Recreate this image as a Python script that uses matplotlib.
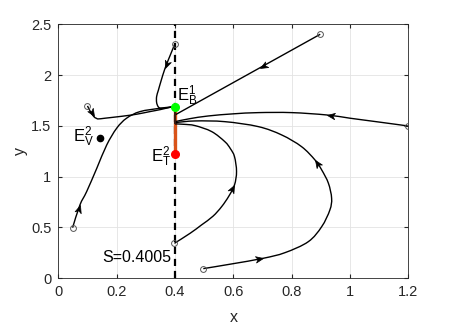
import numpy as np
import matplotlib
matplotlib.use("Agg")
import matplotlib.pyplot as plt
from matplotlib.path import Path
from matplotlib.patches import PathPatch
from matplotlib.markers import MarkerStyle

plt.rcParams['font.family'] = ['Liberation Sans', 'DejaVu Sans']
plt.rcParams['mathtext.default'] = 'regular'

S = 0.4005

# trajectories (x, y)
traj_a_x = [0.399, 0.383, 0.366, 0.352, 0.343, 0.337, 0.337, 0.342, 0.350, 0.365, 0.384, 0.400]
traj_a_y = [2.303, 2.190, 2.067, 1.940, 1.850, 1.788, 1.730, 1.690, 1.673, 1.676, 1.683, 1.690]

traj_b_x = [0.100, 0.110, 0.122, 0.130, 0.137, 0.160, 0.200, 0.234, 0.270, 0.314, 0.350, 0.384, 0.400]
traj_b_y = [1.696, 1.640, 1.590, 1.575, 1.568, 1.575, 1.588, 1.600, 1.615, 1.640, 1.660, 1.683, 1.690]

traj_c_x = [0.049, 0.074, 0.097, 0.132, 0.166, 0.200, 0.234, 0.280, 0.349, 0.380, 0.400]
traj_c_y = [0.498, 0.721, 0.852, 1.083, 1.312, 1.476, 1.575, 1.640, 1.673, 1.683, 1.690]

traj_d_x = [0.898, 0.400]
traj_d_y = [2.401, 1.607]

traj_e_x = [1.198, 1.100, 1.000, 0.920, 0.800, 0.686, 0.600, 0.514, 0.450, 0.400]
traj_e_y = [1.499, 1.537, 1.575, 1.607, 1.630, 1.630, 1.618, 1.597, 1.570, 1.541]

traj_f_x = [0.398, 0.452, 0.491, 0.530, 0.560, 0.585, 0.604, 0.611, 0.604, 0.590, 0.571, 0.526, 0.469, 0.430, 0.400]
traj_f_y = [0.344, 0.443, 0.525, 0.610, 0.705, 0.810, 0.918, 1.050, 1.197, 1.275, 1.344, 1.443, 1.502, 1.515, 1.519]

traj_g_x = [0.497, 0.594, 0.703, 0.777, 0.857, 0.903, 0.931, 0.937, 0.926, 0.903, 0.880, 0.834, 0.766, 0.686, 0.571, 0.469, 0.400]
traj_g_y = [0.095, 0.141, 0.197, 0.252, 0.360, 0.508, 0.672, 0.787, 0.935, 1.066, 1.164, 1.295, 1.410, 1.492, 1.541, 1.548, 1.532]

trajectories = [(traj_a_x, traj_a_y), (traj_b_x, traj_b_y), (traj_c_x, traj_c_y),
                (traj_d_x, traj_d_y), (traj_e_x, traj_e_y), (traj_f_x, traj_f_y),
                (traj_g_x, traj_g_y)]

# arrows: (tail_x, tail_y, tip_x, tip_y)
arrows = [
    (0.383, 2.190, 0.366, 2.067),
    (0.100, 1.696, 0.122, 1.592),
    (0.049, 0.498, 0.074, 0.721),
    (0.898, 2.401, 0.691, 2.068),
    (1.198, 1.499, 0.920, 1.607),
    (0.585, 0.810, 0.604, 0.918),
    (0.903, 1.066, 0.880, 1.164),
    (0.594, 0.141, 0.703, 0.197),
]

# sliding segment and equilibria
slide_y = [1.22, 1.69]
EB1 = (0.400, 1.690)
ET2 = (0.400, 1.220)
EV2 = (0.143, 1.384)

xticks = [0, 0.2, 0.4, 0.6, 0.8, 1, 1.2]
xticklabels = ['0', '0.2', '0.4', '0.6', '0.8', '1', '1.2']
yticks = [0, 0.5, 1, 1.5, 2, 2.5]
yticklabels = ['0', '0.5', '1', '1.5', '2', '2.5']


def smooth_path(xs, ys):
    """Catmull-Rom curve through the read points, drawn as cubic Bezier segments."""
    P = np.column_stack([xs, ys]).astype(float)
    n = len(P)
    if n < 3:
        return Path(P)
    verts = [P[0]]
    codes = [Path.MOVETO]
    for i in range(n - 1):
        p0 = P[i - 1] if i > 0 else P[i]
        p1 = P[i]
        p2 = P[i + 1]
        p3 = P[i + 2] if i + 2 < n else P[i + 1]
        c1 = p1 + (p2 - p0) / 6.0
        c2 = p2 - (p3 - p1) / 6.0
        verts += [c1, c2, p2]
        codes += [Path.CURVE4] * 3
    return Path(verts, codes)


fig = plt.figure(figsize=(4.5, 3.27), dpi=100)
ax = fig.add_axes([0.1296, 0.149, 0.7778, 0.777])
ax.set_xlim(0, 1.2)
ax.set_ylim(0, 2.5)

ax.grid(True, color='#e3e3e3', linewidth=0.6)
ax.set_axisbelow(True)

ax.axvline(S, color='k', linestyle=(0, (3.2, 2.2)), linewidth=1.6, zorder=2)

ax.plot([S, S], slide_y, color='#D95319', linewidth=2.4, zorder=3)

for tx, ty in trajectories:
    ax.add_patch(PathPatch(smooth_path(tx, ty), facecolor='none', edgecolor='k',
                           linewidth=1.0, zorder=4))
    ax.plot(tx[0], ty[0], marker='o', markersize=4.2, markerfacecolor='none',
            markeredgecolor='#555555', markeredgewidth=0.7, zorder=5)

ax.plot([S, S], [1.53, 1.69], color='#3a1a10', linewidth=1.4, zorder=4)

# stealth arrowheads
stealth = Path([(0, 0), (-1, 0.42), (-0.72, 0), (-1, -0.42), (0, 0)],
               [Path.MOVETO, Path.LINETO, Path.LINETO, Path.LINETO, Path.CLOSEPOLY])
for x0, y0, x1, y1 in arrows:
    p0 = ax.transData.transform((x0, y0))
    p1 = ax.transData.transform((x1, y1))
    ang = np.degrees(np.arctan2(p1[1] - p0[1], p1[0] - p0[0]))
    m = MarkerStyle(stealth).rotated(deg=ang)
    ax.plot(x1, y1, marker=m, markersize=11, color='k', markeredgewidth=0.5, zorder=6)

ax.plot(*EB1, 'o', color='#00ff00', markersize=5.5, zorder=7)
ax.plot(*ET2, 'o', color='#ff0000', markersize=5.5, zorder=7)
ax.plot(*EV2, 'o', color='k', markersize=4.5, zorder=7)

ax.text(0.408, 1.80, r'$E_B^1$', fontsize=12, va='center', ha='left')
ax.text(0.385, 1.20, r'$E_T^2$', fontsize=12, va='center', ha='right')
ax.text(0.122, 1.39, r'$E_V^2$', fontsize=12, va='center', ha='right')
ax.text(0.387, 0.205, 'S=0.4005', fontsize=11.5, va='center', ha='right')

ax.set_xticks(xticks)
ax.set_xticklabels(xticklabels)
ax.set_yticks(yticks)
ax.set_yticklabels(yticklabels)
ax.tick_params(direction='in', length=3, labelsize=10.5, colors='#262626',
               top=True, right=True, pad=5)
for sp in ax.spines.values():
    sp.set_color('#262626')
    sp.set_linewidth(0.6)
ax.set_xlabel('x', fontsize=11.5, color='#262626', labelpad=8)
ax.set_ylabel('y', fontsize=11.5, color='#262626', labelpad=2)

fig.savefig('out.png', dpi=100)
